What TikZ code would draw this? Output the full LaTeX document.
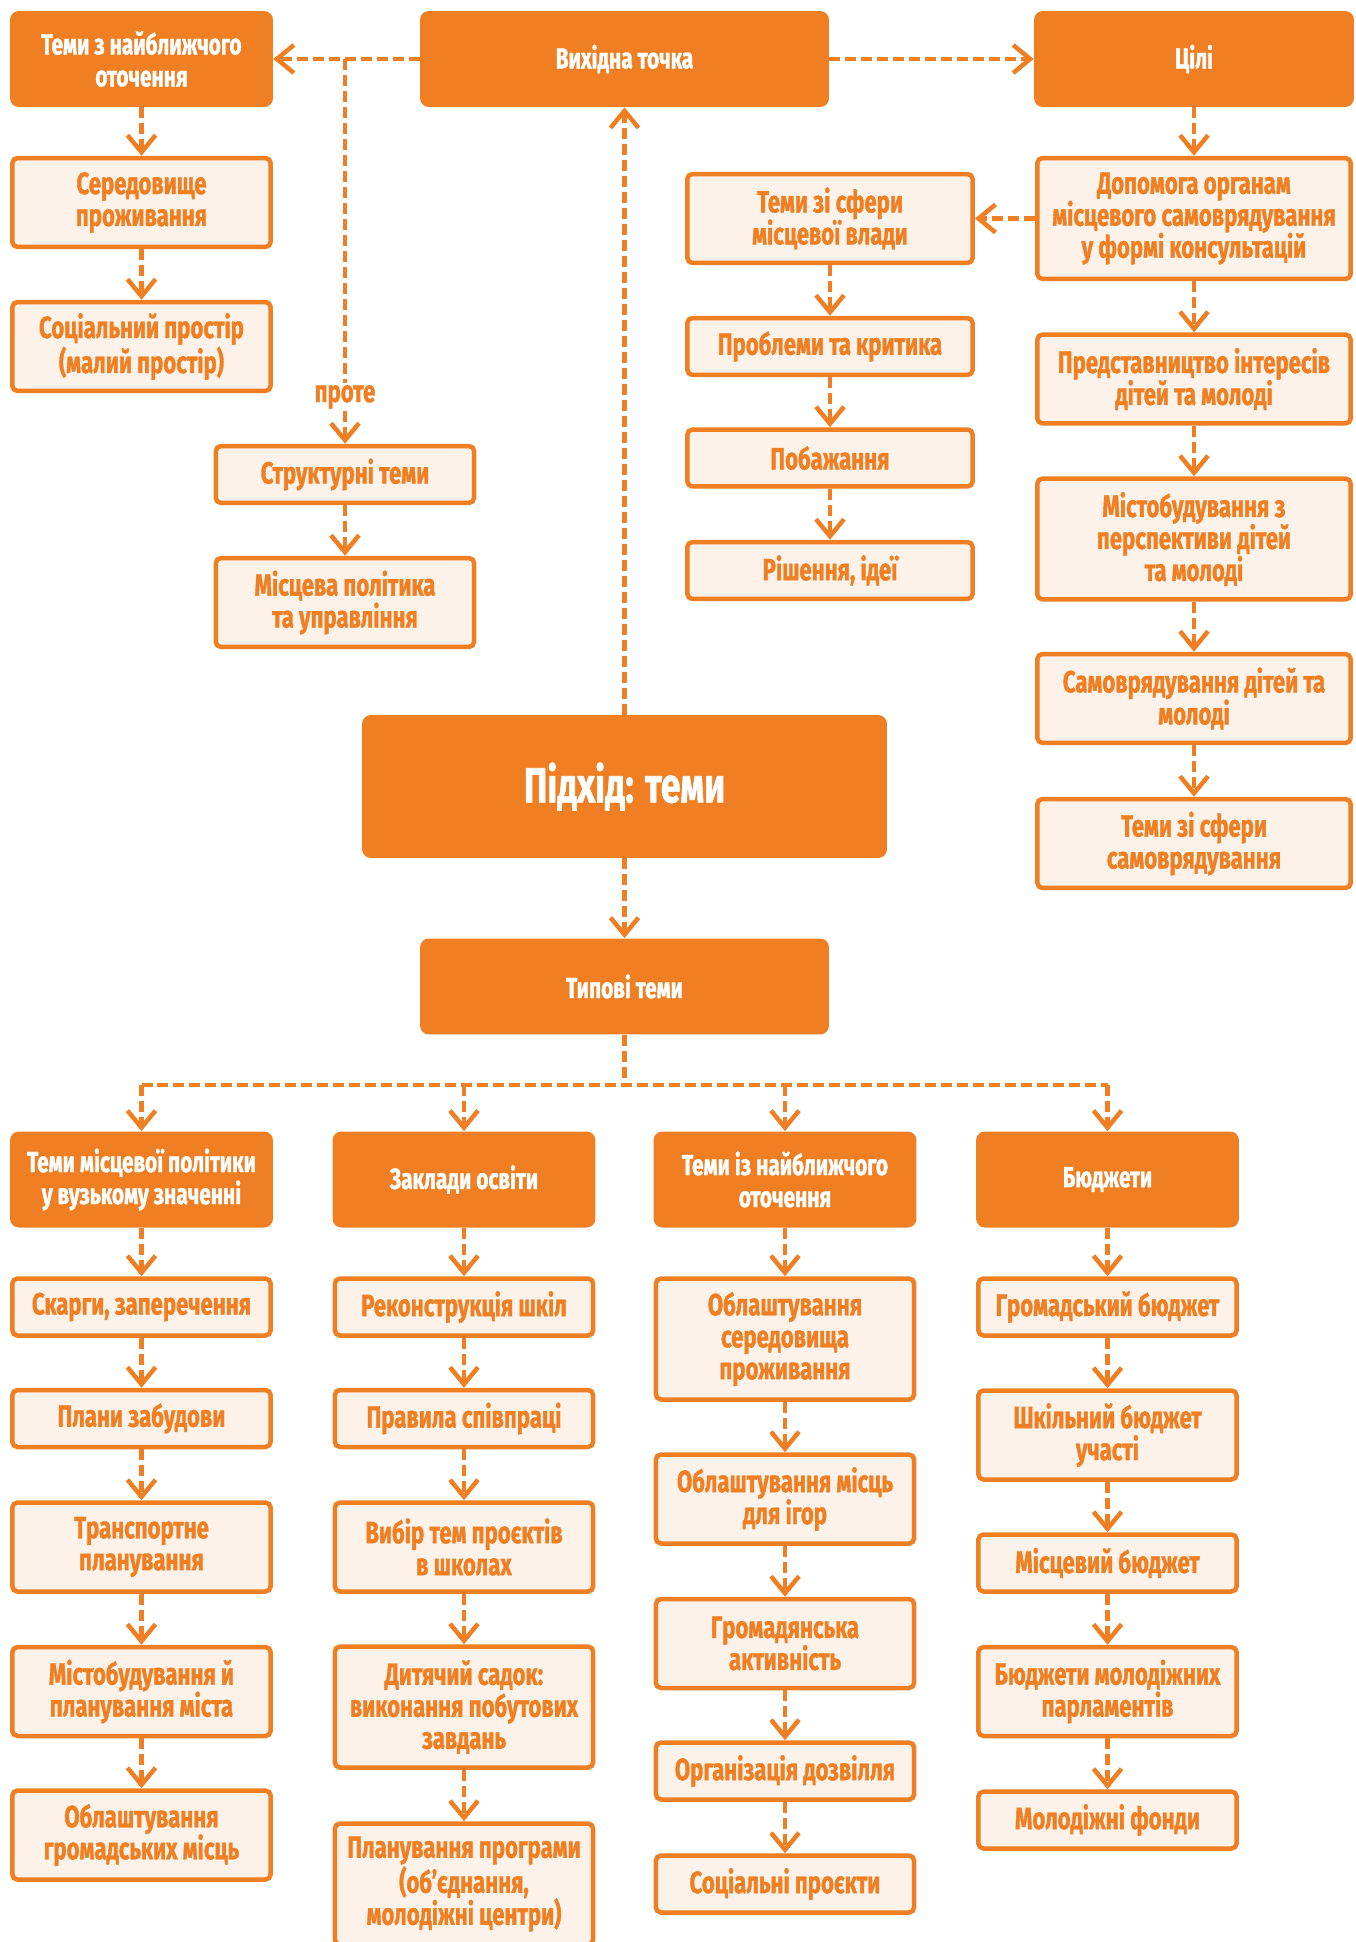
\documentclass[tikz,border=0pt]{standalone}
\usepackage{fontspec}
\setmainfont{Fira Sans}[FakeStretch=0.72, BoldFeatures={FakeBold=1.2}]
\usetikzlibrary{arrows.meta}

\definecolor{ora}{RGB}{239,127,34}
\definecolor{oralight}{RGB}{253,242,233}

\begin{document}
\begin{tikzpicture}[
  x=0.02cm, y=-0.02cm,
  >={Straight Barb[length=0.34cm, width=0.56cm]},
  box/.style={align=center, inner sep=2pt,
    font=\bfseries\fontsize{17.5}{18.2}\selectfont},
  head/.style={box, fill=ora, text=white, rounded corners=5pt,
    minimum width=5.26cm, minimum height=1.92cm,
    font=\bfseries\fontsize{16.5}{18.2}\selectfont},
  item/.style={box, draw=ora, line width=0.09cm, fill=oralight, text=ora,
    rounded corners=3pt, minimum width=5.17cm},
  one/.style={minimum height=1.14cm},
  two/.style={minimum height=1.78cm},
  three/.style={minimum height=2.42cm},
  wide/.style={minimum width=5.71cm},
  wider/.style={minimum width=6.27cm},
  lbl/.style={font=\bfseries\fontsize{17.5}{18.2}\selectfont, text=ora, inner sep=1pt},
  dline/.style={ora, line width=0.09cm, dash pattern=on 0.22cm off 0.1cm},
  arr/.style={dline, ->},
]
\useasboundingbox (0,0) rectangle (1355,1942);

% --- top row ---
\node[head] (near) at (141.5,59) {Теми з найближчого\\оточення};
\node[head, minimum width=8.18cm] (start) at (624.5,59) {Вихідна точка};
\node[head, minimum width=6.4cm] (goals) at (1194,59) {Цілі};

% --- left branch ---
\node[item, two] (env)    at (141.5,202.5) {Середовище\\проживання};
\node[item, two] (social) at (141.5,346.5) {Соціальний простір\\(малий простір)};
\node[lbl] (however)      at (345,397) {проте};
\node[item, one] (struct) at (345,474.5) {Структурні теми};
\node[item, two] (policy) at (345,602.5) {Місцева політика\\та управління};

% --- local authority branch ---
\node[item, two, wide] (power)    at (830,218.5) {Теми зі сфери\\місцевої влади};
\node[item, one, wide] (problems) at (830,346.5) {Проблеми та критика};
\node[item, one, wide] (wishes)   at (830,458)   {Побажання};
\node[item, one, wide] (ideas)    at (830,570.5) {Рішення, ідеї};

% --- goals branch ---
\node[item, three, wider] (consult)    at (1194,218.5) {Допомога органам\\місцевого самоврядування\\у формі консультацій};
\node[item, two, wider]   (interests)  at (1194,379)   {Представництво інтересів\\дітей та молоді};
\node[item, three, wider] (urban)      at (1194,539)   {Містобудування з\\перспективи дітей\\та молоді};
\node[item, two, wider]   (selfgov)    at (1194,698.5) {Самоврядування дітей та\\молоді};
\node[item, two, wider]   (selftopics) at (1194,843.5) {Теми зі сфери\\самоврядування};

% --- centre ---
\node[head, minimum width=10.5cm, minimum height=2.86cm,
  font=\bfseries\fontsize{28}{30}\selectfont] (approach) at (624.5,786.5) {Підхід: теми};
\node[head, minimum width=8.18cm] (typical) at (624.5,986.5) {Типові теми};

% --- typical topics ---
\node[head] (pol)    at (141.5,1179.5) {Теми місцевої політики\\у вузькому значенні};
\node[head] (edu)    at (464,1179.5)   {Заклади освіти};
\node[head] (close)  at (785,1179.5)   {Теми із найближчого\\оточення};
\node[head] (budget) at (1107.5,1179.5) {Бюджети};

\node[item, one] (c1a) at (141.5,1307)   {Скарги, заперечення};
\node[item, one] (c1b) at (141.5,1418.5) {Плани забудови};
\node[item, two] (c1c) at (141.5,1547)   {Транспортне\\планування};
\node[item, two] (c1d) at (141.5,1691.5) {Містобудування й\\планування міста};
\node[item, two] (c1e) at (141.5,1835)   {Облаштування\\громадських місць};

\node[item, one]   (c2a) at (464,1307)   {Реконструкція шкіл};
\node[item, one]   (c2b) at (464,1418.5) {Правила співпраці};
\node[item, two]   (c2c) at (464,1547)   {Вибір тем проєктів\\в школах};
\node[item, three] (c2d) at (464,1707)   {Дитячий садок:\\виконання побутових\\завдань};
\node[item, three] (c2e) at (464,1884)   {Планування програми\\(об’єднання,\\молодіжні центри)};

\node[item, three] (c3a) at (785,1339)   {Облаштування\\середовища\\проживання};
\node[item, two]   (c3b) at (785,1499)   {Облаштування місць\\для ігор};
\node[item, two]   (c3c) at (785,1643.5) {Громадянська\\активність};
\node[item, one]   (c3d) at (785,1771)   {Організація дозвілля};
\node[item, one]   (c3e) at (785,1884)   {Соціальні проєкти};

\node[item, one] (c4a) at (1107.5,1307)   {Громадський бюджет};
\node[item, two] (c4b) at (1107.5,1435)   {Шкільний бюджет\\участі};
\node[item, one] (c4c) at (1107.5,1563)   {Місцевий бюджет};
\node[item, two] (c4d) at (1107.5,1691.5) {Бюджети молодіжних\\парламентів};
\node[item, one] (c4e) at (1107.5,1820)   {Молодіжні фонди};

% --- connectors ---
\draw[arr] (start) -- (goals);
\draw[arr] (start) -- (near);
\draw[dline] (however |- start) -- (however.north);
\draw[arr] (however.south) -- (struct);
\draw[arr] (consult) -- (power);
\draw[arr] (approach) -- (start);
\draw[arr] (approach) -- (typical);

\foreach \a/\b in {near/env, env/social, struct/policy,
  power/problems, problems/wishes, wishes/ideas,
  goals/consult, consult/interests, interests/urban, urban/selfgov, selfgov/selftopics}
  \draw[arr] (\a) -- (\b);

\coordinate (fork) at (624.5,1085);
\draw[dline] (typical) -- (fork);
\draw[dline] (pol |- fork) -- (budget |- fork);
\foreach \h in {pol, edu, close, budget}
  \draw[arr] (\h |- fork) -- (\h);

\foreach \c in {1,...,4} {
  \draw[arr] (\ifcase\c\or pol\or edu\or close\or budget\fi) -- (c\c a);
  \foreach \a/\b in {a/b, b/c, c/d, d/e}
    \draw[arr] (c\c\a) -- (c\c\b);
}

\end{tikzpicture}
\end{document}
